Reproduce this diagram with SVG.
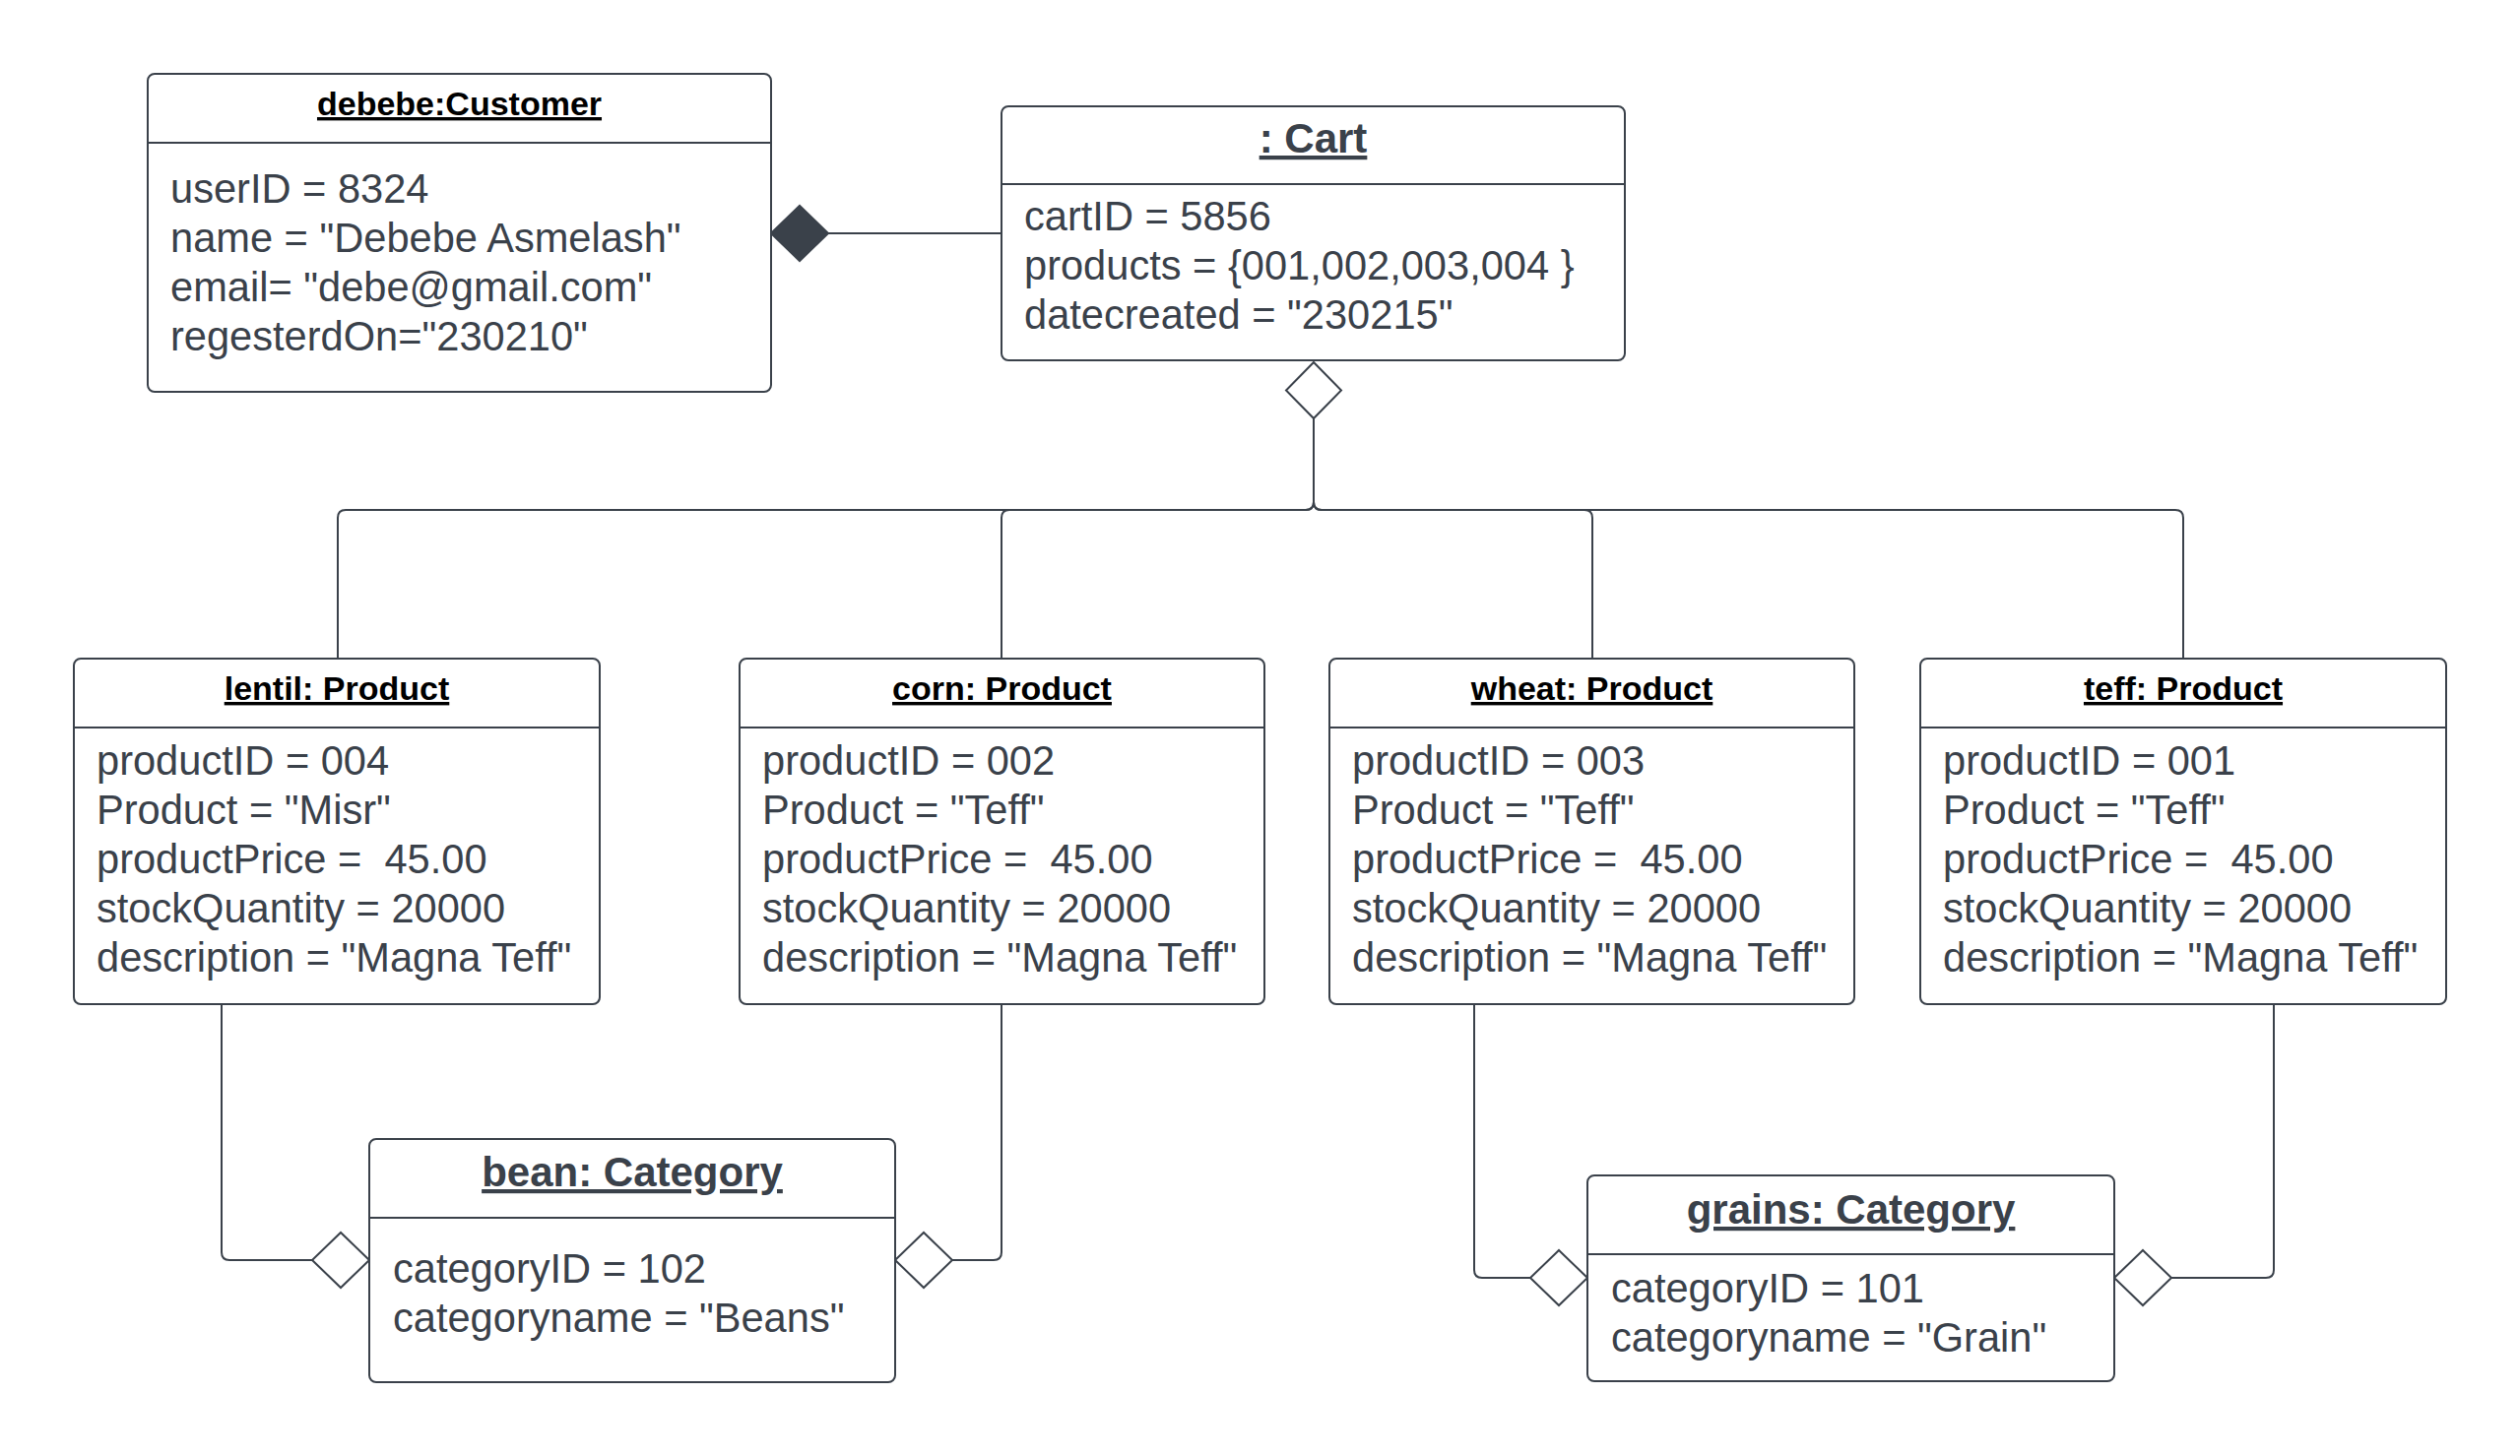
<svg xmlns="http://www.w3.org/2000/svg" width="2559" height="1479" viewBox="0 0 2559 1479">
<style>
.box{fill:#ffffff;stroke:#3a414a;stroke-width:2}
.div{stroke:#3a414a;stroke-width:2}
.conn{fill:none;stroke:#3a414a;stroke-width:2}
.hollow{fill:#ffffff;stroke:#3a414a;stroke-width:2}
.filled{fill:#3a414a;stroke:#3a414a;stroke-width:2}
text{font-family:"Liberation Sans",Arial,sans-serif;white-space:pre}
.attr{font-size:41.6px;fill:#3a414a}
.t1{font-size:34px;font-weight:bold;fill:#000000;text-anchor:middle;text-decoration:underline}
.t2{font-size:42px;font-weight:bold;fill:#3a414a;text-anchor:middle;text-decoration:underline}
</style>
<rect width="2559" height="1479" fill="#ffffff"/>
<g id="connectors">
<path class="conn" d="M841,237 H1017"/>
<path class="conn" d="M1334,425 V510 Q1334,518 1326,518 H351 Q343,518 343,526 V669"/>
<path class="conn" d="M1334,425 V510 Q1334,518 1326,518 H1025 Q1017,518 1017,526 V669"/>
<path class="conn" d="M1334,425 V510 Q1334,518 1342,518 H1609 Q1617,518 1617,526 V669"/>
<path class="conn" d="M1334,425 V510 Q1334,518 1342,518 H2209 Q2217,518 2217,526 V669"/>
<path class="conn" d="M225,1020 V1272 Q225,1280 233,1280 H317"/>
<path class="conn" d="M967,1280 H1009 Q1017,1280 1017,1272 V1020"/>
<path class="conn" d="M1497,1020 V1290 Q1497,1298 1505,1298 H1554"/>
<path class="conn" d="M2205,1298 H2301 Q2309,1298 2309,1290 V1020"/>
<polygon class="filled" points="783,237 812,209 841,237 812,265"/>
<polygon class="hollow" points="1334,368 1362,396.5 1334,425 1306,396.5"/>
<polygon class="hollow" points="375,1280 346,1252 317,1280 346,1308"/>
<polygon class="hollow" points="909,1280 938,1252 967,1280 938,1308"/>
<polygon class="hollow" points="1612,1298 1583,1270 1554,1298 1583,1326"/>
<polygon class="hollow" points="2147,1298 2176,1270 2205,1298 2176,1326"/>
</g>
<g id="customer">
<rect class="box" x="150" y="75" width="633" height="323" rx="7"/>
<line class="div" x1="150" y1="145" x2="783" y2="145"/>
<text class="t1" x="466.5" y="117">debebe:Customer</text>
<text class="attr" x="173" y="206">userID = 8324</text>
<text class="attr" x="173" y="256">name = "Debebe Asmelash"</text>
<text class="attr" x="173" y="306">email= "debe@gmail.com"</text>
<text class="attr" x="173" y="356">regesterdOn="230210"</text>
</g>
<g id="cart">
<rect class="box" x="1017" y="108" width="633" height="258" rx="7"/>
<line class="div" x1="1017" y1="187" x2="1650" y2="187"/>
<text class="t2" x="1333.5" y="155">: Cart</text>
<text class="attr" x="1040" y="234">cartID = 5856</text>
<text class="attr" x="1040" y="284">products = {001,002,003,004 }</text>
<text class="attr" x="1040" y="334">datecreated = "230215"</text>
</g>
<g id="lentil">
<rect class="box" x="75" y="669" width="534" height="351" rx="7"/>
<line class="div" x1="75" y1="739" x2="609" y2="739"/>
<text class="t1" x="342" y="711">lentil: Product</text>
<text class="attr" x="98" y="787">productID = 004</text>
<text class="attr" x="98" y="837">Product = "Misr"</text>
<text class="attr" x="98" y="887">productPrice =  45.00</text>
<text class="attr" x="98" y="937">stockQuantity = 20000</text>
<text class="attr" x="98" y="987">description = "Magna Teff"</text>
</g>
<g id="corn">
<rect class="box" x="751" y="669" width="533" height="351" rx="7"/>
<line class="div" x1="751" y1="739" x2="1284" y2="739"/>
<text class="t1" x="1017.5" y="711">corn: Product</text>
<text class="attr" x="774" y="787">productID = 002</text>
<text class="attr" x="774" y="837">Product = "Teff"</text>
<text class="attr" x="774" y="887">productPrice =  45.00</text>
<text class="attr" x="774" y="937">stockQuantity = 20000</text>
<text class="attr" x="774" y="987">description = "Magna Teff"</text>
</g>
<g id="wheat">
<rect class="box" x="1350" y="669" width="533" height="351" rx="7"/>
<line class="div" x1="1350" y1="739" x2="1883" y2="739"/>
<text class="t1" x="1616.5" y="711">wheat: Product</text>
<text class="attr" x="1373" y="787">productID = 003</text>
<text class="attr" x="1373" y="837">Product = "Teff"</text>
<text class="attr" x="1373" y="887">productPrice =  45.00</text>
<text class="attr" x="1373" y="937">stockQuantity = 20000</text>
<text class="attr" x="1373" y="987">description = "Magna Teff"</text>
</g>
<g id="teff">
<rect class="box" x="1950" y="669" width="534" height="351" rx="7"/>
<line class="div" x1="1950" y1="739" x2="2484" y2="739"/>
<text class="t1" x="2217" y="711">teff: Product</text>
<text class="attr" x="1973" y="787">productID = 001</text>
<text class="attr" x="1973" y="837">Product = "Teff"</text>
<text class="attr" x="1973" y="887">productPrice =  45.00</text>
<text class="attr" x="1973" y="937">stockQuantity = 20000</text>
<text class="attr" x="1973" y="987">description = "Magna Teff"</text>
</g>
<g id="bean">
<rect class="box" x="375" y="1157" width="534" height="247" rx="7"/>
<line class="div" x1="375" y1="1237" x2="909" y2="1237"/>
<text class="t2" x="642" y="1205">bean: Category</text>
<text class="attr" x="399" y="1303">categoryID = 102</text>
<text class="attr" x="399" y="1353">categoryname = "Beans"</text>
</g>
<g id="grains">
<rect class="box" x="1612" y="1194" width="535" height="209" rx="7"/>
<line class="div" x1="1612" y1="1274" x2="2147" y2="1274"/>
<text class="t2" x="1879.5" y="1243">grains: Category</text>
<text class="attr" x="1636" y="1323">categoryID = 101</text>
<text class="attr" x="1636" y="1373">categoryname = "Grain"</text>
</g>
</svg>
